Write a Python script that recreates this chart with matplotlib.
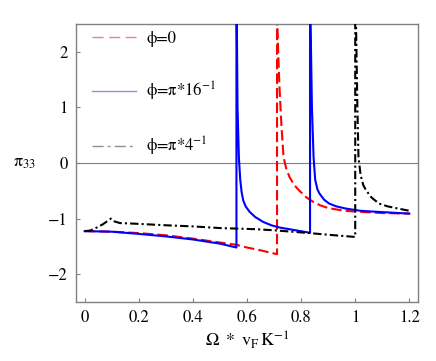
import matplotlib
matplotlib.use("Agg")
import matplotlib.pyplot as plt
from matplotlib.lines import Line2D

plt.rcParams['font.family'] = 'STIXGeneral'
plt.rcParams['mathtext.fontset'] = 'stix'

# phi = 0 (red, dashed)
x_red = [0, 0.1, 0.2, 0.3, 0.4, 0.5, 0.56, 0.6, 0.65, 0.711,
         0.711, 0.712, 0.716, 0.72, 0.727, 0.735, 0.745, 0.757, 0.775, 0.794,
         0.82, 0.845, 0.87, 0.90, 0.962, 1.024, 1.1, 1.2]
y_red = [-1.225, -1.235, -1.26, -1.30, -1.36, -1.43, -1.47, -1.52, -1.57, -1.64,
         3.0, 2.5, 1.9, 1.37, 0.7, 0.11, -0.1, -0.25, -0.40, -0.50,
         -0.62, -0.70, -0.76, -0.81, -0.86, -0.88, -0.90, -0.91]

# phi = pi/16 (blue, solid)
x_blue = [0, 0.1, 0.2, 0.3, 0.4, 0.5, 0.561,
          0.561, 0.5625, 0.565, 0.57, 0.575, 0.58, 0.586, 0.595, 0.61, 0.63, 0.66, 0.69, 0.72, 0.78, 0.833,
          0.833, 0.835, 0.84, 0.846, 0.852, 0.86, 0.868, 0.885, 0.904, 0.93, 0.966, 1.02, 1.088, 1.2]
y_blue = [-1.225, -1.235, -1.275, -1.32, -1.375, -1.45, -1.52,
          3.0, 2.5, 1.0, 0.1, -0.30, -0.52, -0.67, -0.78, -0.88, -0.97, -1.06, -1.12, -1.16, -1.21, -1.255,
          3.0, 2.5, 1.0, 0.11, -0.30, -0.47, -0.55, -0.66, -0.73, -0.78, -0.82, -0.86, -0.88, -0.91]

# phi = pi/4 (black, dot-dashed)
x_blk = [0, 0.02, 0.043, 0.068, 0.097, 0.11, 0.13, 0.18, 0.3, 0.4, 0.5, 0.63, 0.7, 0.83, 0.9, 1.0,
         1.0, 1.003, 1.008, 1.012, 1.02, 1.03, 1.04, 1.06, 1.088, 1.12, 1.15, 1.2]
y_blk = [-1.225, -1.215, -1.165, -1.10, -1.0, -1.05, -1.08, -1.09, -1.12, -1.14, -1.17, -1.19, -1.21, -1.26, -1.29, -1.33,
         3.0, 2.5, 1.0, 0.11, -0.22, -0.40, -0.49, -0.62, -0.73, -0.78, -0.81, -0.86]

labels = ['\u03d5=0', '\u03d5=\u03c0*16$^{-1}$', '\u03d5=\u03c0*4$^{-1}$']
xticks = [0, 0.2, 0.4, 0.6, 0.8, 1.0, 1.2]
xticklabels = ['0', '0.2', '0.4', '0.6', '0.8', '1', '1.2']
yticks = [-2, -1, 0, 1, 2]
yticklabels = ['\u22122', '\u22121', '0', '1', '2']

fig = plt.figure(figsize=(4.36, 3.61), dpi=100)
ax = fig.add_axes([0.1743, 0.1634, 0.7844, 0.7701])

ax.axhline(0, color='#808080', lw=0.8, zorder=1)
ax.plot(x_red, y_red, color='red', lw=1.5, dashes=(5, 2), zorder=2)
ax.plot(x_blue, y_blue, color='blue', lw=1.5, zorder=3)
ax.plot(x_blk, y_blk, color='black', lw=1.5, dashes=(4, 1.5, 1, 1.5), zorder=4)

ax.set_xlim(-0.032, 1.232)
ax.set_ylim(-2.5, 2.5)
ax.set_xticks(xticks)
ax.set_xticklabels(xticklabels)
ax.set_yticks(yticks)
ax.set_yticklabels(yticklabels)
ax.tick_params(direction='in', length=3, color='#808080', labelsize=12, pad=6)
for s in ax.spines.values():
    s.set_color('#808080')
    s.set_linewidth(1.0)

ax.set_xlabel(r'$\Omega\ *\ \mathrm{v}_\mathrm{F}\,\mathrm{K}^{-1}$', fontsize=13, labelpad=2)
ax.set_ylabel('\u03c0$_{33}$', fontsize=13, rotation=0, va='center', ha='center')
ax.yaxis.set_label_coords(-0.15, 0.5)

handles = [Line2D([], [], color='#f08080', lw=1, dashes=(8, 4)),
           Line2D([], [], color='#9090f0', lw=1),
           Line2D([], [], color='#909090', lw=1, dashes=(8, 3, 2, 3))]
ax.legend(handles, labels, loc='upper left', bbox_to_anchor=(0.047, 0.975),
          frameon=False, fontsize=12, borderaxespad=0, borderpad=0,
          handlelength=2.64, handletextpad=0.6, labelspacing=1.95)

fig.savefig('out.png', dpi=100)
